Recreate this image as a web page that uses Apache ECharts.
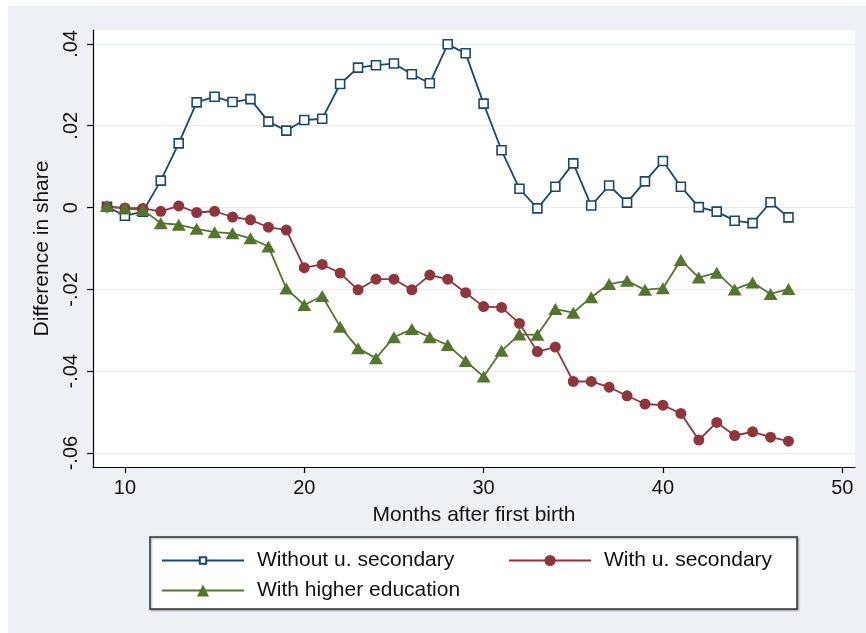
<!DOCTYPE html>
<html>
<head>
<meta charset="utf-8">
<title>Difference in share</title>
<script src="https://cdn.jsdelivr.net/npm/echarts@6/dist/echarts.min.js"></script>
<style>
  body { margin: 0; background: #fff; }
  .bg { position: absolute; left: 8px; top: 6px; right: 0; bottom: 0; background: #edf1f6; }
  #chart { position: absolute; left: 0; top: 0; width: 866px; height: 633px; }
</style>
</head>
<body>
<div class="bg"></div>
<div id="chart"></div>
<script>
// months after first birth
const months = [9, 10, 11, 12, 13, 14, 15, 16, 17, 18, 19, 20, 21, 22, 23, 24, 25, 26, 27, 28,
  29, 30, 31, 32, 33, 34, 35, 36, 37, 38, 39, 40, 41, 42, 43, 44, 45, 46, 47];

const withoutSecondary = [0.0002, -0.0020, -0.0010, 0.0066, 0.0157, 0.0257, 0.0271, 0.0258, 0.0265, 0.0210,
  0.0188, 0.0214, 0.0217, 0.0302, 0.0342, 0.0348, 0.0352, 0.0326, 0.0304, 0.0399,
  0.0377, 0.0254, 0.0140, 0.0046, -0.0002, 0.0051, 0.0108, 0.0005, 0.0054, 0.0012,
  0.0064, 0.0114, 0.0051, 0.0001, -0.0010, -0.0032, -0.0038, 0.0013, -0.0024];

const withSecondary = [0.0001, -0.0001, -0.0002, -0.0009, 0.0004, -0.0012, -0.0009, -0.0023, -0.0030, -0.0048,
  -0.0055, -0.0147, -0.0139, -0.0160, -0.0201, -0.0175, -0.0175, -0.0201, -0.0165, -0.0175,
  -0.0208, -0.0242, -0.0244, -0.0283, -0.0352, -0.0341, -0.0425, -0.0425, -0.0439, -0.0460,
  -0.0480, -0.0483, -0.0503, -0.0568, -0.0525, -0.0557, -0.0548, -0.0561, -0.0571];

const higherEducation = [0.0004, -0.0002, -0.0006, -0.0038, -0.0042, -0.0052, -0.0060, -0.0063, -0.0075, -0.0095,
  -0.0198, -0.0238, -0.0216, -0.0291, -0.0344, -0.0368, -0.0317, -0.0297, -0.0317, -0.0336,
  -0.0375, -0.0413, -0.0350, -0.0310, -0.0311, -0.0248, -0.0257, -0.0219, -0.0187, -0.0179,
  -0.0201, -0.0197, -0.0128, -0.0171, -0.0159, -0.0200, -0.0183, -0.0211, -0.0199];

const xTicks = [10, 20, 30, 40, 50];
const yTicks = [-0.06, -0.04, -0.02, 0, 0.02, 0.04];

const seriesNames = ["Without u. secondary", "With u. secondary", "With higher education"];

const font = "'Liberation Sans', Arial, Helvetica, sans-serif";

function pairs(ys) {
  return months.map((m, i) => [m, ys[i]]);
}

// stata style: .04 instead of 0.04
function shortNum(v) {
  if (Math.abs(v) < 1e-9) return "0";
  let s = String(Math.round(v * 1000) / 1000);
  return s.replace("0.", ".");
}

function legendAt(name, left, top, markSize) {
  return {
    data: [name],
    left: left,
    top: top,
    padding: 0,
    itemWidth: 82,
    itemHeight: markSize,
    textStyle: { fontFamily: font, fontSize: 21, color: "#111", padding: [0, 0, 0, 8] },
  };
}

const chart = echarts.init(document.getElementById("chart"));
chart.setOption({
  backgroundColor: "transparent",
  animation: false,
  grid: {
    left: 93,
    top: 30,
    right: 11,
    bottom: 166,
    show: true,
    backgroundColor: "#fff",
    borderWidth: 0,
    outerBoundsMode: "none",
  },
  legend: [
    legendAt(seriesNames[0], 161, 550, 8),
    legendAt(seriesNames[1], 508, 550, 14),
    legendAt(seriesNames[2], 161, 580, 15),
  ],
  graphic: [
    {
      type: "rect",
      z: 1,
      shape: { x: 150, y: 537, width: 647, height: 72 },
      style: {
        fill: "#fff",
        stroke: "#333",
        lineWidth: 1.5,
        shadowBlur: 2,
        shadowOffsetX: 1,
        shadowOffsetY: 1,
        shadowColor: "rgba(0,0,0,0.35)",
      },
    },
  ],
  xAxis: {
    type: "value",
    min: 8.22,
    max: 50.71,
    name: "Months after first birth",
    nameLocation: "middle",
    nameGap: 38,
    nameTextStyle: { fontFamily: font, fontSize: 21, color: "#111" },
    axisLine: { onZero: false, lineStyle: { color: "#000", width: 1.2 } },
    axisTick: { length: 6, customValues: xTicks, lineStyle: { color: "#000", width: 1.2 } },
    axisLabel: { customValues: xTicks, margin: 11, fontFamily: font, fontSize: 20, color: "#111" },
    splitLine: { show: false },
  },
  yAxis: {
    type: "value",
    min: -0.0634,
    max: 0.0434,
    name: "Difference in share",
    nameLocation: "middle",
    nameGap: 35,
    nameTextStyle: { fontFamily: font, fontSize: 21, color: "#111" },
    axisLine: { show: true, onZero: false, lineStyle: { color: "#000", width: 1.2 } },
    axisTick: { show: true, length: 6, customValues: yTicks, lineStyle: { color: "#000", width: 1.2 } },
    axisLabel: {
      customValues: yTicks,
      rotate: 90,
      margin: 12,
      fontFamily: font,
      fontSize: 20,
      color: "#111",
      formatter: shortNum,
    },
    splitLine: { show: true, lineStyle: { color: "#e6eef3", width: 1.2 } },
  },
  series: [
    {
      name: seriesNames[0],
      type: "line",
      data: pairs(withoutSecondary),
      color: "#1a476f",
      symbol: "rect",
      symbolSize: 9,
      showAllSymbol: true,
      lineStyle: { width: 1.8, color: "#1a476f" },
      itemStyle: { color: "#fff", borderColor: "#1a476f", borderWidth: 1.6 },
    },
    {
      name: seriesNames[1],
      type: "line",
      data: pairs(withSecondary),
      color: "#90353b",
      symbol: "circle",
      symbolSize: 11,
      showAllSymbol: true,
      lineStyle: { width: 1.8, color: "#90353b" },
      itemStyle: { color: "#90353b" },
    },
    {
      name: seriesNames[2],
      type: "line",
      data: pairs(higherEducation),
      color: "#55752f",
      symbol: "triangle",
      symbolSize: [14, 12],
      showAllSymbol: true,
      lineStyle: { width: 1.8, color: "#55752f" },
      itemStyle: { color: "#55752f" },
    },
  ],
});
</script>
</body>
</html>
